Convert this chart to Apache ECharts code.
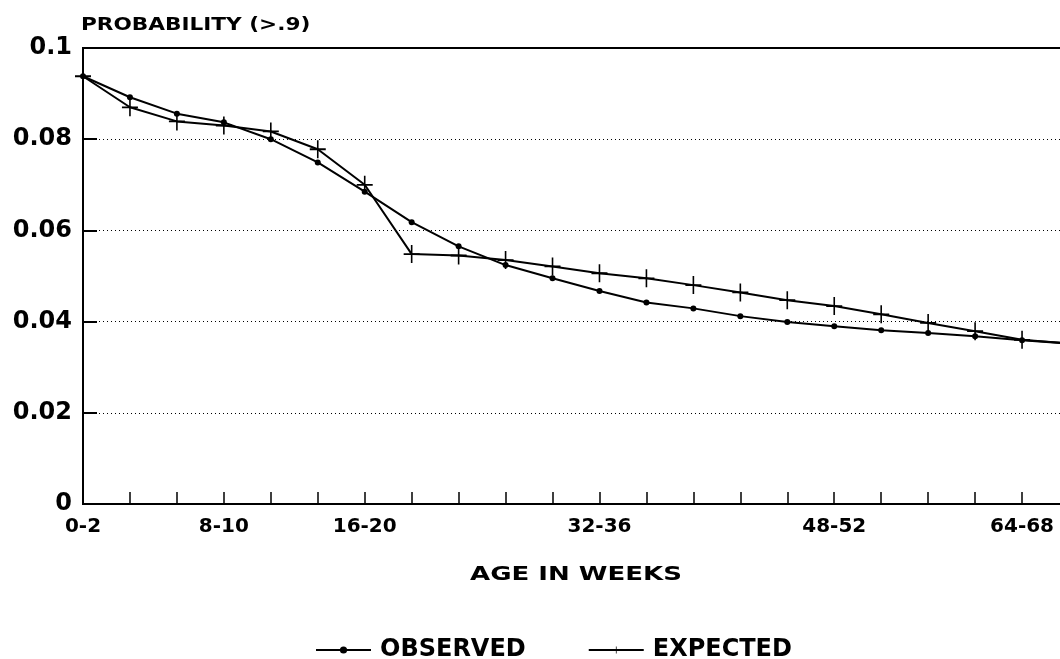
<!DOCTYPE html>
<html>
<head>
<meta charset="utf-8">
<script src="https://cdn.jsdelivr.net/npm/echarts@6/dist/echarts.min.js"></script>
<style>
  html, body { margin: 0; padding: 0; background: #fff; }
  #chart { width: 1060px; height: 659px; }
</style>
</head>
<body>
<div id="chart"></div>
<script>
// age groups, only some are labelled on the original axis
var ageLabels = ['0-2', '', '', '8-10', '', '', '16-20', '', '', '', '', '32-36',
    '', '', '', '', '48-52', '', '', '', '64-68', ''];
var observed = [0.0938, 0.0892, 0.0856, 0.0837, 0.0800, 0.0749, 0.0685, 0.0618, 0.0565, 0.0524, 0.0495,
    0.0467, 0.0442, 0.0429, 0.0412, 0.0399, 0.0390, 0.0381, 0.0375, 0.0368, 0.0359, 0.0352];
var expected = [0.0938, 0.0870, 0.0839, 0.0830, 0.0817, 0.0778, 0.0700, 0.0548, 0.0545, 0.0535, 0.0521,
    0.0506, 0.0495, 0.0480, 0.0464, 0.0447, 0.0434, 0.0416, 0.0397, 0.0379, 0.0360, 0.0352];
var yTicks = [0, 0.02, 0.04, 0.06, 0.08, 0.1];

var font = '"DejaVu Sans", Verdana, sans-serif';
var plusSymbol = 'path://M-1,-10 L1,-10 L1,-1 L10,-1 L10,1 L1,1 L1,10 L-1,10 L-1,1 L-10,1 L-10,-1 L-1,-1 Z';

var chart = echarts.init(document.getElementById('chart'));
var option = {
    animation: false,
    backgroundColor: '#fff',
    // the original lettering is a wide face, so the two titles are stretched a bit
    graphic: [
        {
            type: 'text',
            x: 81,
            y: 25,
            scaleX: 1.2,
            style: {
                text: 'PROBABILITY (>.9)',
                fontFamily: font, fontSize: 18, fontWeight: 'bold',
                fill: '#000', align: 'left', verticalAlign: 'middle'
            }
        },
        {
            type: 'text',
            x: 576,
            y: 575,
            scaleX: 1.3,
            style: {
                text: 'AGE IN WEEKS',
                fontFamily: font, fontSize: 20, fontWeight: 'bold',
                fill: '#000', align: 'center', verticalAlign: 'middle'
            }
        }
    ],
    grid: {
        left: 83,
        top: 48,
        width: 986,
        bottom: 155,
        outerBoundsMode: 'none',
        show: true,
        borderColor: '#000',
        borderWidth: 2
    },
    legend: {
        left: 310,
        top: 633,
        itemGap: 62,
        itemWidth: 55,
        itemHeight: 9,
        textStyle: { fontFamily: font, fontSize: 24, fontWeight: 'bold', color: '#000', padding: [0, 0, 0, 4] },
        data: ['OBSERVED', 'EXPECTED']
    },
    xAxis: {
        type: 'category',
        data: ageLabels,
        boundaryGap: false,
        axisLine: { lineStyle: { color: '#000', width: 2 } },
        axisTick: { inside: true, length: 12, interval: 0, lineStyle: { color: '#000', width: 1.5 } },
        axisLabel: {
            interval: 0,
            margin: 13,
            fontFamily: font, fontSize: 20, fontWeight: 'bold', color: '#000'
        },
        splitLine: { show: false }
    },
    yAxis: {
        type: 'value',
        min: yTicks[0],
        max: yTicks[yTicks.length - 1],
        interval: 0.02,
        axisLine: { show: true, lineStyle: { color: '#000', width: 2 } },
        axisTick: { show: true, inside: true, length: 14, lineStyle: { color: '#000', width: 2 } },
        axisLabel: {
            margin: 11,
            fontFamily: font, fontSize: 24, fontWeight: 'bold', color: '#000',
            formatter: function (v) { return String(+v.toFixed(2)); }
        },
        splitLine: { show: true, lineStyle: { color: '#000', type: [1, 3], width: 1 } }
    },
    series: [
        {
            name: 'OBSERVED',
            type: 'line',
            data: observed,
            symbol: 'circle',
            symbolSize: 6,
            lineStyle: { color: '#000', width: 2 },
            itemStyle: { color: '#000' }
        },
        {
            name: 'EXPECTED',
            type: 'line',
            data: expected,
            symbol: plusSymbol,
            symbolSize: [16, 18],
            lineStyle: { color: '#000', width: 2 },
            itemStyle: { color: '#000' }
        }
    ]
};
chart.setOption(option);
</script>
</body>
</html>
